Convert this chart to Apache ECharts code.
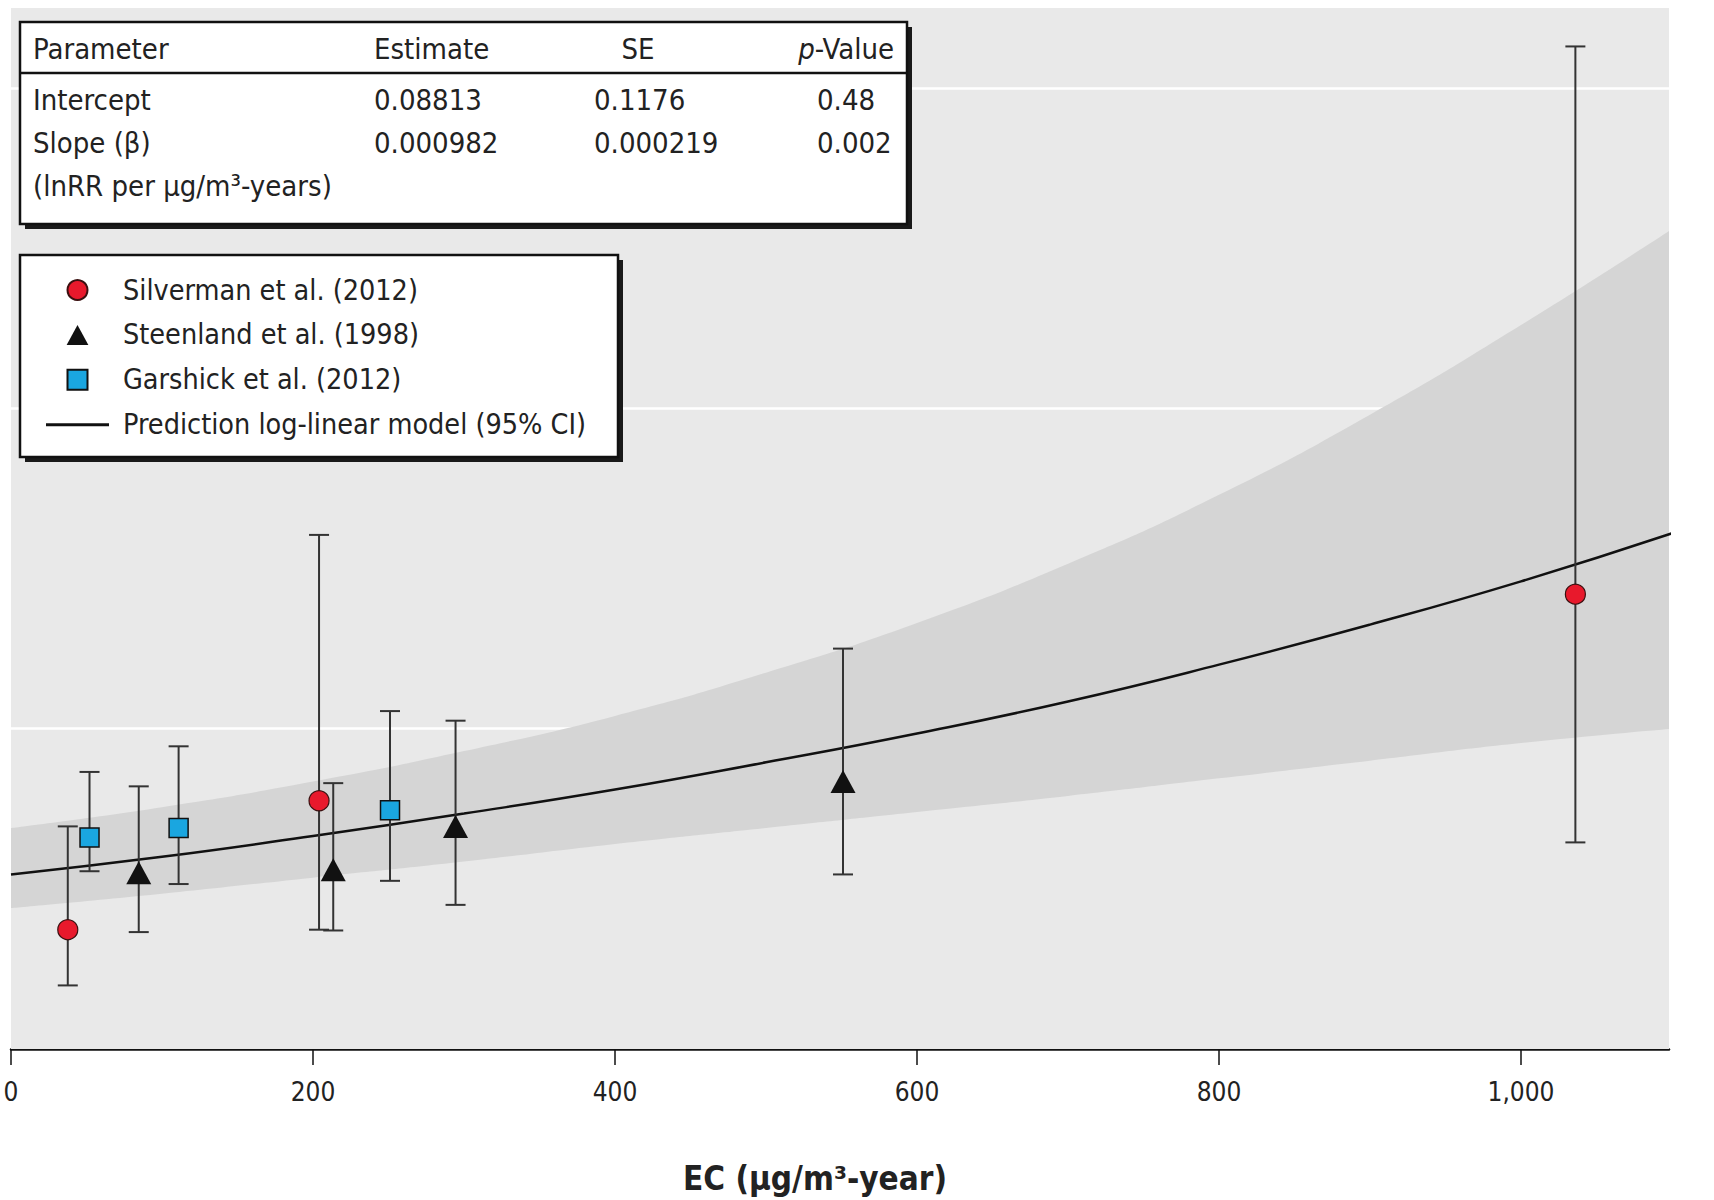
<!DOCTYPE html>
<html>
<head>
<meta charset="utf-8">
<script src="https://cdn.jsdelivr.net/npm/echarts@6/dist/echarts.min.js"></script>
<style>
  html, body { margin: 0; padding: 0; background: #ffffff; }
  #chart { width: 1714px; height: 1200px; }
</style>
</head>
<body>
<div id="chart"></div>
<script>
// ---------- data ----------
const ecTicks = [0, 200, 400, 600, 800, 1000];

// prediction of the log-linear model and its 95% CI (RR)
const predEC    = [0, 100, 200, 300, 400, 500, 600, 700, 800, 900, 1000, 1100];
const predRR    = [1.09, 1.20, 1.33, 1.47, 1.62, 1.79, 1.97, 2.17, 2.40, 2.65, 2.92, 3.22];
const predLower = [0.88, 0.97, 1.07, 1.17, 1.28, 1.38, 1.48, 1.58, 1.69, 1.80, 1.91, 2.00];
const predUpper = [1.38, 1.51, 1.67, 1.86, 2.08, 2.35, 2.66, 3.03, 3.46, 3.96, 4.52, 5.12];

// Silverman et al. (2012)
const silvermanEC = [37.6, 204, 1036];
const silvermanRR = [0.745, 1.55, 2.84];
const silvermanLo = [0.397, 0.745, 1.29];
const silvermanHi = [1.39, 3.21, 6.26];

// Steenland et al. (1998)
const steenlandEC = [84.6, 213.4, 294.4, 551];
const steenlandRR = [1.10, 1.12, 1.39, 1.67];
const steenlandLo = [0.73, 0.74, 0.90, 1.09];
const steenlandHi = [1.64, 1.66, 2.05, 2.50];

// Garshick et al. (2012)
const garshickEC = [52, 111, 251];
const garshickRR = [1.32, 1.38, 1.49];
const garshickLo = [1.11, 1.03, 1.05];
const garshickHi = [1.73, 1.89, 2.11];

const seriesNames = [
  'Silverman et al. (2012)',
  'Steenland et al. (1998)',
  'Garshick et al. (2012)',
  'Prediction log-linear model (95% CI)'
];

// parameter table
const tableHeader = ['Parameter', 'Estimate', 'SE', 'p-Value'];
const tableRows = [
  ['Intercept', '0.08813', '0.1176', '0.48'],
  ['Slope (\u03B2)', '0.000982', '0.000219', '0.002'],
  ['(lnRR per \u00B5g/m\u00B3-years)', '', '', '']
];
const xAxisTitle = 'EC (\u00B5g/m\u00B3-year)';

// ---------- helpers ----------
const FONT = "'DejaVu Sans Condensed','Liberation Sans Narrow','Arial Narrow',sans-serif";
const BG = '#e9e9e9';
const BAND = '#d5d5d5';
const zip2 = (xs, ys) => xs.map((x, i) => [x, ys[i]]);
const zip3 = (xs, lo, hi) => xs.map((x, i) => [x, lo[i], hi[i]]);

function errorBarRender(params, api) {
  const x = api.value(0);
  const lo = api.coord([x, api.value(1)]);
  const hi = api.coord([x, api.value(2)]);
  const hw = 10;
  const st = { stroke: '#333333', lineWidth: 2 };
  return {
    type: 'group',
    children: [
      { type: 'line', shape: { x1: lo[0], y1: lo[1], x2: hi[0], y2: hi[1] }, style: st },
      { type: 'line', shape: { x1: lo[0] - hw, y1: lo[1], x2: lo[0] + hw, y2: lo[1] }, style: st },
      { type: 'line', shape: { x1: hi[0] - hw, y1: hi[1], x2: hi[0] + hw, y2: hi[1] }, style: st }
    ]
  };
}

// ---------- table graphic ----------
const TB = { x: 20, y: 22, w: 887, h: 202 };
const colX = [33, 374, 594, 817];
const rowY = [99.5, 143, 186];
const tableFont = 29;
const txt = (text, x, y, align, extra) => Object.assign({ type: 'text', z: 12, style: Object.assign({
  text: text, x: x, y: y, fontSize: tableFont, fontFamily: FONT, fill: '#222',
  textAlign: align, align: align, textVerticalAlign: 'middle', verticalAlign: 'middle' }, extra || {}) });
const tableGraphic = [
  { type: 'rect', z: 10, shape: { x: TB.x + 5, y: TB.y + 5, width: TB.w, height: TB.h }, style: { fill: '#1a1a1a' } },
  { type: 'rect', z: 11, shape: { x: TB.x, y: TB.y, width: TB.w, height: TB.h }, style: { fill: '#ffffff', stroke: '#111111', lineWidth: 2.5 } },
  { type: 'line', z: 12, shape: { x1: TB.x, y1: 73, x2: TB.x + TB.w, y2: 73 }, style: { stroke: '#111111', lineWidth: 2.5 } },
  txt(tableHeader[0], 33, 49, 'left'),
  txt(tableHeader[1], 374, 49, 'left'),
  txt(tableHeader[2], 638, 49, 'center'),
  txt('{i|' + tableHeader[3].charAt(0) + '}' + tableHeader[3].slice(1), 894, 49, 'right',
      { rich: { i: { fontStyle: 'italic', fontSize: tableFont, fontFamily: FONT, fill: '#222' } } })
];
tableRows.forEach((row, r) => {
  row.forEach((cell, c) => {
    if (cell) tableGraphic.push(txt(cell, colX[c], rowY[r], 'left'));
  });
});

// legend box
const LB = { x: 20, y: 255, w: 598, h: 202 };
const legendGraphic = [
  { type: 'rect', z: 10, shape: { x: LB.x + 5, y: LB.y + 5, width: LB.w, height: LB.h }, style: { fill: '#1a1a1a' } },
  { type: 'rect', z: 11, shape: { x: LB.x, y: LB.y, width: LB.w, height: LB.h }, style: { fill: '#ffffff', stroke: '#111111', lineWidth: 2.5 } }
];

const legendFont = 28.5;

// ---------- chart ----------
const chart = echarts.init(document.getElementById('chart'), null, { renderer: 'svg' });
const option = {
  animation: false,
  backgroundColor: '#ffffff',
  grid: { left: 11, right: 45, top: 8, bottom: 148, show: true, backgroundColor: BG, borderWidth: 0 },
  xAxis: {
    type: 'value', min: 0, max: 1098,
    name: xAxisTitle, nameLocation: 'middle', nameGap: 113,
    nameTextStyle: { fontSize: 33, fontWeight: 'bold', fontFamily: FONT, color: '#222', padding: [0, 50, 0, 0] },
    axisLine: { show: true, lineStyle: { color: '#111', width: 2.5 } },
    axisTick: { show: true, length: 16, lineStyle: { color: '#111', width: 1.5 }, customValues: ecTicks },
    axisLabel: { fontSize: 26, fontFamily: FONT, color: '#222', margin: 30, customValues: ecTicks,
      formatter: v => Number(v).toLocaleString('en-US') },
    splitLine: { show: false }
  },
  yAxis: {
    type: 'value', min: 0, max: 6.5, interval: 2,
    axisLine: { show: false }, axisTick: { show: false }, axisLabel: { show: false },
    splitLine: { show: true, showMinLine: false, showMaxLine: false, lineStyle: { color: '#ffffff', width: 2.5 } }
  },
  legend: {
    orient: 'vertical', left: 46, top: 275.5, padding: 0, z: 12,
    itemWidth: 63, itemHeight: 20, itemGap: 15.9, symbolKeepAspect: true,
    textStyle: { fontSize: legendFont, lineHeight: legendFont, fontFamily: FONT, color: '#222', padding: [0, 0, 0, 9] },
    data: [
      { name: seriesNames[0], icon: 'circle' },
      { name: seriesNames[1], icon: 'path://M12.5,0L25,23L0,23Z' },
      { name: seriesNames[2], icon: 'path://M0,0L19,0L19,19L0,19Z' },
      { name: seriesNames[3], icon: 'path://M0,0L63,0L63,3L0,3Z' }
    ],
    selectedMode: false
  },
  graphic: { elements: tableGraphic.concat(legendGraphic) },
  series: [
    // CI band: upper bound filled with band colour, lower bound re-filled with background colour
    { name: 'ciUpper', type: 'line', z: 1, smooth: true, symbol: 'none', silent: true,
      lineStyle: { width: 0, opacity: 0 }, areaStyle: { color: BAND, opacity: 1 },
      data: zip2(predEC, predUpper) },
    { name: 'ciLower', type: 'line', z: 2, smooth: true, symbol: 'none', silent: true,
      lineStyle: { width: 0, opacity: 0 }, areaStyle: { color: BG, opacity: 1 },
      data: zip2(predEC, predLower) },
    { name: seriesNames[3], type: 'line', z: 3, smooth: true, symbol: 'none',
      lineStyle: { color: '#111111', width: 2.5 }, itemStyle: { color: '#111111' },
      data: zip2(predEC, predRR) },
    { name: 'errSilverman', type: 'custom', z: 4, renderItem: errorBarRender, data: zip3(silvermanEC, silvermanLo, silvermanHi), silent: true },
    { name: 'errSteenland', type: 'custom', z: 4, renderItem: errorBarRender, data: zip3(steenlandEC, steenlandLo, steenlandHi), silent: true },
    { name: 'errGarshick', type: 'custom', z: 4, renderItem: errorBarRender, data: zip3(garshickEC, garshickLo, garshickHi), silent: true },
    { name: seriesNames[0], type: 'scatter', z: 5, symbol: 'circle', symbolSize: 20,
      itemStyle: { color: '#e8192c', borderColor: '#3a1010', borderWidth: 1.2, opacity: 1 },
      data: zip2(silvermanEC, silvermanRR) },
    { name: seriesNames[1], type: 'scatter', z: 5, symbol: 'triangle', symbolSize: [25, 23],
      itemStyle: { color: '#111111', opacity: 1 },
      data: zip2(steenlandEC, steenlandRR) },
    { name: seriesNames[2], type: 'scatter', z: 5, symbol: 'rect', symbolSize: 19,
      itemStyle: { color: '#1aa6e0', borderColor: '#111111', borderWidth: 1.5, opacity: 1 },
      data: zip2(garshickEC, garshickRR) }
  ]
};
chart.setOption(option);
</script>
</body>
</html>
